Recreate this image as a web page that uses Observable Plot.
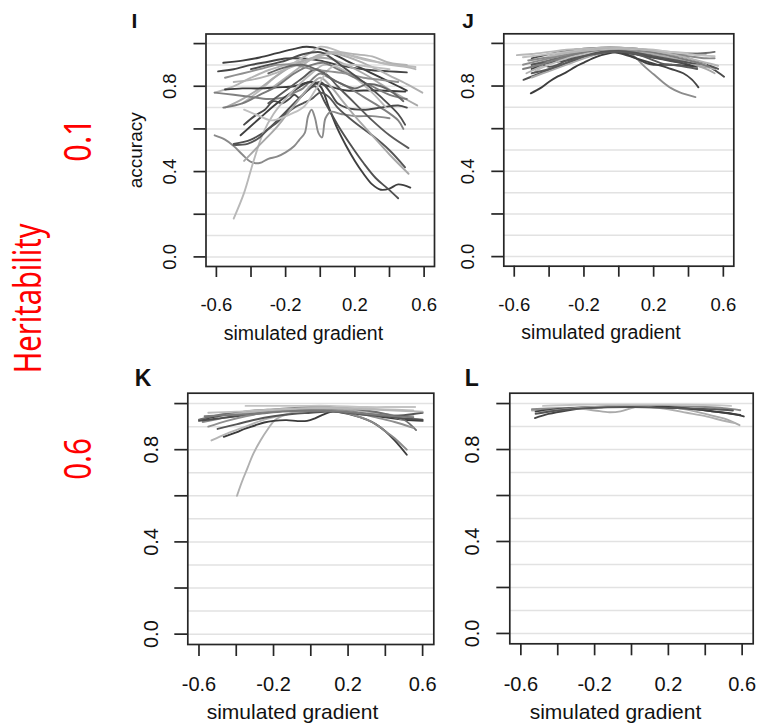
<!DOCTYPE html>
<html><head><meta charset="utf-8">
<script src="https://cdn.jsdelivr.net/npm/d3@7"></script>
<script src="https://cdn.jsdelivr.net/npm/@observablehq/plot@0.6"></script>
<style>
body{margin:0;background:#fff;}
#fig{position:relative;width:763px;height:728px;overflow:hidden;background:#fff;}
#fig svg{position:absolute;}
</style></head><body><div id="fig"></div>
<script>
// ---------- labels & ticks ----------
const xTicks = [-0.6,-0.4,-0.2,0,0.2,0.4,0.6];
const xTickLabels = [-0.6,-0.2,0.2,0.6];
const yTicks = [0,0.2,0.4,0.6,0.8,1];
const yTickLabels = [0,0.4,0.8];
const gridLevels = [0,0.1,0.2,0.3,0.4,0.5,0.6,0.7,0.8,0.9,1];
const panelNames = ["I","J","K","L"];
const xTitle = "simulated gradient";
const yTitle = "accuracy";
const rowTitle = "Heritability";
const rowLevels = ["0.1","0.6"];

// ---------- data: each series is a list of [gradient, accuracy] ----------
const seriesI = [
 [[-0.56,0.91],[-0.45,0.92],[-0.35,0.935],[-0.25,0.955],[-0.15,0.975],[-0.08,0.985],[0,0.975],[0.08,0.95],[0.15,0.92],[0.25,0.88],[0.35,0.84],[0.45,0.8],[0.5,0.78]],
 [[-0.59,0.87],[-0.5,0.88],[-0.4,0.9],[-0.3,0.915],[-0.2,0.93],[-0.1,0.93],[0,0.92],[0.1,0.9],[0.2,0.885],[0.3,0.875],[0.4,0.87],[0.5,0.865]],
 [[-0.61,0.77],[-0.5,0.8],[-0.4,0.84],[-0.3,0.875],[-0.2,0.9],[-0.1,0.92],[-0.02,0.94],[0.05,0.96],[0.12,0.955],[0.2,0.94],[0.3,0.92],[0.4,0.9],[0.5,0.89],[0.55,0.88]],
 [[-0.45,0.72],[-0.35,0.78],[-0.25,0.85],[-0.15,0.91],[-0.05,0.96],[0,0.985],[0.05,0.98],[0.15,0.95],[0.25,0.925],[0.35,0.91],[0.45,0.9],[0.55,0.89]],
 [[-0.3,0.78],[-0.2,0.84],[-0.1,0.9],[0,0.95],[0.1,0.95],[0.2,0.925],[0.3,0.89],[0.4,0.85],[0.5,0.81],[0.59,0.77]],
 [[-0.55,0.7],[-0.45,0.74],[-0.35,0.79],[-0.25,0.85],[-0.15,0.9],[-0.05,0.93],[0.05,0.93],[0.15,0.9],[0.25,0.86],[0.35,0.81],[0.45,0.76],[0.56,0.71]],
 [[-0.55,0.785],[-0.45,0.79],[-0.35,0.79],[-0.25,0.795],[-0.15,0.8],[-0.05,0.82],[0.05,0.8],[0.15,0.78],[0.25,0.78],[0.35,0.78],[0.49,0.775]],
 [[-0.61,0.77],[-0.5,0.76],[-0.4,0.75],[-0.3,0.74],[-0.2,0.75],[-0.15,0.77],[-0.1,0.79],[-0.05,0.83],[0,0.86],[0.05,0.84],[0.15,0.8],[0.25,0.75],[0.35,0.7],[0.45,0.64],[0.48,0.6]],
 [[-0.44,0.62],[-0.38,0.66],[-0.32,0.69],[-0.27,0.73],[-0.22,0.72],[-0.18,0.74],[-0.15,0.76],[-0.12,0.745],[-0.09,0.77],[-0.05,0.8],[0,0.82],[0.05,0.78],[0.1,0.72],[0.15,0.7],[0.25,0.69],[0.35,0.7],[0.45,0.71],[0.5,0.7]],
 [[-0.46,0.57],[-0.35,0.65],[-0.25,0.72],[-0.15,0.78],[-0.06,0.82],[0,0.8],[0.05,0.7],[0.1,0.6],[0.15,0.52],[0.2,0.45],[0.25,0.39],[0.3,0.34],[0.35,0.315],[0.4,0.32],[0.45,0.34],[0.52,0.325]],
 [[-0.5,0.53],[-0.4,0.55],[-0.3,0.6],[-0.2,0.68],[-0.1,0.76],[-0.03,0.8],[0.03,0.72],[0.1,0.62],[0.18,0.52],[0.25,0.44],[0.32,0.37],[0.39,0.32],[0.45,0.275]],
 [[-0.61,0.57],[-0.55,0.55],[-0.5,0.52],[-0.45,0.48],[-0.4,0.445],[-0.35,0.44],[-0.3,0.46],[-0.25,0.47],[-0.2,0.49],[-0.15,0.52],[-0.12,0.55],[-0.09,0.58],[-0.07,0.66],[-0.05,0.69],[-0.03,0.65],[-0.01,0.58],[0.01,0.56],[0.03,0.65],[0.06,0.68],[0.12,0.67],[0.2,0.66],[0.3,0.66],[0.4,0.65]],
 [[-0.5,0.18],[-0.44,0.3],[-0.385,0.45],[-0.33,0.58],[-0.27,0.67],[-0.19,0.75],[-0.12,0.81],[-0.05,0.86],[0.02,0.9],[0.1,0.89],[0.2,0.84],[0.3,0.77],[0.38,0.7]],
 [[-0.5,0.525],[-0.42,0.53],[-0.35,0.56],[-0.3,0.6],[-0.25,0.63],[-0.2,0.67],[-0.15,0.7],[-0.1,0.72],[-0.05,0.74],[0,0.77],[0.05,0.75],[0.1,0.7],[0.2,0.63],[0.3,0.57],[0.4,0.5],[0.49,0.42]],
 [[-0.44,0.45],[-0.38,0.5],[-0.32,0.55],[-0.26,0.6],[-0.2,0.66],[-0.13,0.73],[-0.06,0.8],[0,0.84],[0.06,0.8],[0.12,0.74],[0.2,0.66],[0.3,0.57],[0.4,0.48],[0.51,0.39]],
 [[-0.3,0.72],[-0.2,0.78],[-0.1,0.84],[-0.03,0.88],[0.03,0.86],[0.1,0.8],[0.2,0.72],[0.3,0.64],[0.4,0.57],[0.51,0.51]],
 [[-0.56,0.7],[-0.45,0.72],[-0.35,0.76],[-0.25,0.8],[-0.15,0.86],[-0.05,0.9],[0.02,0.91],[0.1,0.88],[0.2,0.84],[0.3,0.8],[0.4,0.76],[0.5,0.74]],
 [[-0.44,0.69],[-0.35,0.66],[-0.28,0.64],[-0.2,0.66],[-0.1,0.7],[-0.03,0.78],[0.05,0.88],[0.1,0.9],[0.2,0.9],[0.3,0.89],[0.4,0.88]],
 [[-0.55,0.84],[-0.45,0.86],[-0.35,0.88],[-0.25,0.9],[-0.15,0.9],[-0.05,0.88],[0.05,0.87],[0.15,0.86],[0.25,0.84],[0.35,0.83],[0.45,0.82]],
 [[-0.4,0.88],[-0.3,0.9],[-0.2,0.92],[-0.1,0.95],[0,0.96],[0.05,0.94],[0.15,0.88],[0.25,0.82],[0.35,0.75],[0.45,0.67],[0.49,0.62]],
 [[-0.5,0.82],[-0.4,0.83],[-0.3,0.85],[-0.2,0.88],[-0.1,0.91],[0,0.94],[0.1,0.96],[0.2,0.95],[0.3,0.94],[0.4,0.91],[0.5,0.9]],
 [[-0.3,0.86],[-0.2,0.89],[-0.1,0.9],[0,0.87],[0.1,0.82],[0.2,0.79],[0.27,0.81],[0.35,0.8],[0.42,0.77],[0.48,0.73]]
];
const seriesJ = [
 [[-0.505,0.766],[-0.45,0.79],[-0.4,0.82],[-0.35,0.845],[-0.3,0.865],[-0.25,0.89],[-0.2,0.91],[-0.15,0.93],[-0.1,0.945],[-0.05,0.955],[0,0.96],[0.05,0.955],[0.1,0.95],[0.2,0.935],[0.3,0.92],[0.4,0.9],[0.5,0.89]],
 [[-0.55,0.9],[-0.4,0.93],[-0.25,0.955],[-0.1,0.97],[0,0.975],[0.05,0.96],[0.1,0.93],[0.15,0.89],[0.2,0.855],[0.25,0.82],[0.3,0.79],[0.35,0.77],[0.44,0.748]],
 [[-0.5,0.88],[-0.4,0.91],[-0.3,0.93],[-0.2,0.95],[-0.1,0.96],[0,0.955],[0.1,0.93],[0.2,0.905],[0.3,0.88],[0.37,0.86],[0.42,0.83],[0.457,0.794]],
 [[-0.5,0.93],[-0.4,0.95],[-0.3,0.965],[-0.2,0.975],[-0.1,0.98],[0,0.98],[0.1,0.975],[0.2,0.96],[0.3,0.945],[0.4,0.93],[0.5,0.9],[0.55,0.875],[0.604,0.844]],
 [[-0.585,0.945],[-0.5,0.95],[-0.4,0.96],[-0.3,0.97],[-0.2,0.975],[-0.1,0.98],[0,0.98],[0.1,0.975],[0.2,0.97],[0.3,0.96],[0.4,0.955],[0.5,0.95]],
 [[-0.547,0.829],[-0.45,0.86],[-0.35,0.89],[-0.25,0.92],[-0.15,0.945],[-0.05,0.96],[0.05,0.955],[0.15,0.94],[0.25,0.925],[0.35,0.91],[0.45,0.9],[0.5,0.89]],
 [[-0.53,0.86],[-0.45,0.89],[-0.35,0.92],[-0.25,0.945],[-0.15,0.96],[-0.05,0.97],[0.05,0.97],[0.15,0.955],[0.25,0.94],[0.35,0.92],[0.45,0.9],[0.55,0.88]],
 [[-0.5,0.9],[-0.4,0.92],[-0.3,0.94],[-0.2,0.955],[-0.1,0.965],[0,0.97],[0.1,0.96],[0.2,0.95],[0.3,0.95],[0.4,0.95],[0.5,0.955],[0.55,0.96]],
 [[-0.45,0.905],[-0.35,0.915],[-0.3,0.92],[-0.2,0.94],[-0.1,0.955],[0,0.96],[0.1,0.93],[0.15,0.91],[0.2,0.9],[0.3,0.9],[0.4,0.895],[0.45,0.89]],
 [[-0.5,0.84],[-0.4,0.87],[-0.3,0.9],[-0.2,0.93],[-0.1,0.955],[0,0.965],[0.1,0.96],[0.2,0.95],[0.3,0.93],[0.4,0.91],[0.5,0.88],[0.55,0.86]],
 [[-0.52,0.92],[-0.4,0.935],[-0.3,0.945],[-0.2,0.955],[-0.1,0.96],[0,0.965],[0.1,0.965],[0.2,0.96],[0.3,0.95],[0.4,0.94],[0.5,0.93],[0.55,0.93]],
 [[-0.5,0.9],[-0.45,0.905],[-0.4,0.89],[-0.35,0.9],[-0.3,0.92],[-0.2,0.945],[-0.1,0.96],[0,0.965],[0.1,0.955],[0.2,0.94],[0.3,0.925],[0.4,0.91],[0.5,0.9],[0.57,0.88]],
 [[-0.48,0.87],[-0.4,0.9],[-0.3,0.93],[-0.2,0.95],[-0.1,0.97],[0,0.975],[0.1,0.97],[0.2,0.96],[0.3,0.94],[0.4,0.92],[0.5,0.9]],
 [[-0.55,0.88],[-0.45,0.9],[-0.35,0.925],[-0.25,0.95],[-0.15,0.965],[-0.05,0.975],[0.05,0.975],[0.15,0.965],[0.25,0.95],[0.35,0.93],[0.45,0.91],[0.52,0.89]],
 [[-0.55,0.935],[-0.45,0.945],[-0.35,0.955],[-0.25,0.965],[-0.15,0.97],[-0.05,0.975],[0.05,0.975],[0.15,0.97],[0.25,0.965],[0.35,0.955],[0.45,0.945],[0.55,0.94]],
 [[-0.5,0.86],[-0.4,0.88],[-0.3,0.91],[-0.2,0.94],[-0.1,0.955],[0,0.96],[0.1,0.95],[0.2,0.92],[0.25,0.905],[0.3,0.9],[0.35,0.895],[0.45,0.88]],
 [[-0.4,0.94],[-0.3,0.955],[-0.2,0.965],[-0.1,0.975],[0,0.98],[0.1,0.975],[0.2,0.965],[0.3,0.95],[0.4,0.93],[0.5,0.91],[0.57,0.895]]
];
const seriesK = [
 [[-0.396,0.6],[-0.37,0.66],[-0.34,0.72],[-0.31,0.78],[-0.27,0.84],[-0.23,0.89],[-0.19,0.93],[-0.12,0.955],[-0.05,0.965],[0.05,0.97],[0.15,0.975],[0.25,0.97],[0.35,0.96],[0.45,0.95],[0.55,0.945]],
 [[-0.59,0.93],[-0.5,0.945],[-0.4,0.955],[-0.3,0.965],[-0.2,0.97],[-0.1,0.975],[0,0.975],[0.1,0.97],[0.2,0.955],[0.3,0.93],[0.35,0.91],[0.4,0.88],[0.45,0.84],[0.515,0.778]],
 [[-0.58,0.92],[-0.45,0.94],[-0.3,0.96],[-0.15,0.97],[0,0.975],[0.15,0.965],[0.25,0.945],[0.3,0.93],[0.35,0.91],[0.4,0.88],[0.45,0.85],[0.515,0.8]],
 [[-0.467,0.856],[-0.4,0.875],[-0.36,0.889],[-0.3,0.905],[-0.25,0.918],[-0.2,0.925],[-0.13,0.928],[-0.07,0.924],[-0.02,0.925],[0.02,0.935],[0.06,0.95],[0.12,0.966],[0.2,0.968],[0.3,0.955],[0.4,0.94],[0.5,0.93],[0.6,0.925]],
 [[-0.533,0.84],[-0.45,0.87],[-0.35,0.9],[-0.25,0.93],[-0.15,0.95],[-0.05,0.965],[0.05,0.97],[0.15,0.97],[0.25,0.965],[0.35,0.955],[0.45,0.94],[0.5,0.93]],
 [[-0.6,0.93],[-0.5,0.95],[-0.4,0.96],[-0.3,0.97],[-0.2,0.975],[-0.1,0.98],[0,0.985],[0.1,0.985],[0.2,0.98],[0.3,0.97],[0.4,0.955],[0.5,0.93],[0.565,0.885]],
 [[-0.35,0.99],[-0.2,0.99],[-0.05,0.99],[0.1,0.99],[0.3,0.985],[0.45,0.985],[0.56,0.985]],
 [[-0.55,0.96],[-0.4,0.965],[-0.2,0.975],[0,0.98],[0.2,0.98],[0.4,0.975],[0.55,0.97]],
 [[-0.6,0.925],[-0.5,0.935],[-0.4,0.945],[-0.3,0.955],[-0.2,0.965],[-0.1,0.97],[0,0.97],[0.1,0.97],[0.2,0.965],[0.3,0.955],[0.4,0.945],[0.5,0.935],[0.6,0.93]],
 [[-0.55,0.9],[-0.45,0.925],[-0.35,0.945],[-0.25,0.96],[-0.15,0.97],[-0.05,0.975],[0.05,0.975],[0.15,0.97],[0.25,0.96],[0.35,0.94],[0.45,0.92],[0.55,0.895]],
 [[-0.5,0.89],[-0.4,0.91],[-0.3,0.93],[-0.2,0.945],[-0.1,0.955],[0,0.96],[0.1,0.965],[0.2,0.96],[0.3,0.95],[0.4,0.945],[0.5,0.95],[0.6,0.96]],
 [[-0.45,0.95],[-0.3,0.965],[-0.15,0.975],[0,0.98],[0.15,0.98],[0.3,0.975],[0.45,0.97],[0.6,0.965]],
 [[-0.57,0.945],[-0.45,0.95],[-0.3,0.955],[-0.15,0.965],[0,0.97],[0.15,0.965],[0.3,0.955],[0.45,0.945],[0.55,0.94]]
];
const seriesL = [
 [[-0.524,0.937],[-0.45,0.955],[-0.35,0.97],[-0.25,0.98],[-0.15,0.985],[-0.05,0.99],[0.05,0.99],[0.15,0.985],[0.25,0.98],[0.35,0.975],[0.45,0.965],[0.52,0.958],[0.59,0.95]],
 [[-0.54,0.97],[-0.45,0.975],[-0.35,0.98],[-0.28,0.978],[-0.2,0.97],[-0.12,0.962],[-0.06,0.966],[0,0.98],[0.05,0.99],[0.15,0.99],[0.25,0.98],[0.35,0.965],[0.45,0.945],[0.52,0.93],[0.586,0.906]],
 [[-0.54,0.975],[-0.4,0.98],[-0.2,0.985],[0,0.99],[0.2,0.99],[0.4,0.985],[0.5,0.98],[0.59,0.971]],
 [[-0.52,0.965],[-0.4,0.975],[-0.2,0.985],[0,0.99],[0.2,0.985],[0.35,0.975],[0.45,0.965],[0.55,0.955],[0.609,0.944]],
 [[-0.48,0.99],[-0.3,0.995],[-0.1,0.995],[0.1,0.995],[0.3,0.995],[0.45,0.993],[0.54,0.99]],
 [[-0.5,0.96],[-0.4,0.972],[-0.3,0.98],[-0.2,0.985],[0,0.99],[0.2,0.975],[0.3,0.96],[0.4,0.945],[0.5,0.925],[0.56,0.915]],
 [[-0.52,0.955],[-0.4,0.97],[-0.25,0.98],[0,0.985],[0.25,0.98],[0.45,0.975],[0.55,0.97]]
];

// ---------- styles (grey level of each series) ----------
const shadesI = ["#3d3d3d","#454545","#b5b5b5","#bbbbbb","#b0b0b0","#aaaaaa","#3a3a3a","#808080","#4a4a4a","#3f3f3f","#505050","#8a8a8a","#b8b8b8","#555555","#a8a8a8","#5a5a5a","#7a7a7a","#c0c0c0","#909090","#4d4d4d","#b3b3b3","#666666"];
const shadesJ = ["#3d3d3d","#8c8c8c","#444444","#4a4a4a","#b8b8b8","#505050","#b0b0b0","#6e6e6e","#404040","#aaaaaa","#8a8a8a","#555555","#bdbdbd","#7d7d7d","#c2c2c2","#5a5a5a","#b5b5b5"];
const shadesK = ["#b0b0b0","#3d3d3d","#8a8a8a","#3a3a3a","#b5b5b5","#707070","#c4c4c4","#bdbdbd","#4d4d4d","#8f8f8f","#555555","#b8b8b8","#7a7a7a"];
const shadesL = ["#444444","#aaaaaa","#8a8a8a","#3d3d3d","#c4c4c4","#b0b0b0","#555555"];

const xDomain = [-0.66, 0.66];
const yDomain = [-0.045, 1.045];
const FONT = "'Liberation Sans', Arial, Helvetica, sans-serif";

const layout = [
 {name: panelNames[0], series: seriesI, shades: shadesI, left:110, top:0, w:330, h:350, ml:95.5, mr:6, mt:33.5, mb:84, fs:18.5, xt:11, yt:12, pad:20.7, ylabDx:-36.3, titleDx:-16.8, titleDy:73.5, letterDx:-74.5, letterDy:-6.5, letterFs:21, yTitle:true},
 {name: panelNames[1], series: seriesJ, shades: shadesJ, left:440, top:0, w:323, h:350, ml:63.3, mr:29.7, mt:33.3, mb:84.3, fs:18.5, xt:11, yt:12, pad:20.7, ylabDx:-35.8, titleDx:-17.8, titleDy:72.6, letterDx:-41.5, letterDy:-6.3, letterFs:21, yTitle:false},
 {name: panelNames[2], series: seriesK, shades: shadesK, left:100, top:360, w:340, h:368, ml:87.3, mr:6.7, mt:32.7, mb:84, fs:20, xt:12, yt:13, pad:20.7, ylabDx:-36.5, titleDx:-18.3, titleDy:74.3, letterDx:-53, letterDy:-7.5, letterFs:23, yTitle:false},
 {name: panelNames[3], series: seriesL, shades: shadesL, left:440, top:360, w:323, h:368, ml:69.3, mr:10.3, mt:32.7, mb:84.7, fs:20, xt:12, yt:13, pad:20.7, ylabDx:-36.8, titleDx:-16, titleDy:75, letterDx:-45, letterDy:-7.5, letterFs:23, yTitle:false}
];

const fig = document.getElementById("fig");
const fmt = d => d.toFixed(1);

// ---------- red row annotations (behind the panels, full-size layer) ----------
const ns = "http://www.w3.org/2000/svg";
const ann = document.createElementNS(ns, "svg");
ann.setAttribute("width", 763); ann.setAttribute("height", 728);
ann.style.left = "0px"; ann.style.top = "0px";
fig.appendChild(ann);
const redLabels = [
  {t: rowTitle, x: 40.7, y: 298.3, len: 150},
  {t: rowLevels[0], x: 90.7, y: 140, len: 43.3},
  {t: rowLevels[1], x: 90.7, y: 459, len: 41.7}
];
for (const r of redLabels) {
  const t = document.createElementNS(ns, "text");
  t.setAttribute("text-anchor", "middle");
  t.setAttribute("font-family", "'Noto Sans', 'Open Sans', sans-serif");
  t.setAttribute("font-size", 38);
  t.setAttribute("fill", "#ff0000");
  t.textContent = r.t;
  ann.appendChild(t);
  const natural = t.getComputedTextLength() || r.len;
  const sx = r.len / natural;
  t.setAttribute("transform", `translate(${r.x},${r.y}) rotate(-90) scale(${sx.toFixed(4)},1)`);
}

for (const p of layout) {
  const rows = p.series.flatMap((pts, k) => pts.map(([x, y]) => ({k, x, y})));
  const marks = [
    Plot.ruleY(gridLevels, {stroke: "#e2e2e2", strokeWidth: 1.5}),
    Plot.line(rows, {x: "x", y: "y", z: "k", stroke: "k", strokeWidth: 1.9, curve: "catmull-rom"}),
    Plot.frame({stroke: "#262626", strokeWidth: 1.7}),
    Plot.axisX({ticks: xTicks, tickSize: p.xt, tickPadding: p.pad, fontSize: p.fs, label: null,
      tickFormat: d => xTickLabels.some(v => Math.abs(v - d) < 1e-9) ? fmt(d) : "",
      stroke: "#262626", fill: "#111", strokeWidth: 1.7}),
    Plot.axisY({ticks: yTicks, tickSize: p.yt, label: null, tickFormat: () => "",
      stroke: "#262626", strokeWidth: 1.7}),
    Plot.text(yTickLabels, {y: d => d, text: fmt, frameAnchor: "left", dx: p.ylabDx, rotate: -90,
      textAnchor: "middle", lineAnchor: "middle", fontSize: p.fs, fill: "#111"}),
    Plot.text([xTitle], {frameAnchor: "bottom", text: d => d, dx: p.titleDx, dy: p.titleDy,
      lineAnchor: "bottom", fontSize: p.fs + 1, fill: "#111"}),
    Plot.text([p.name], {frameAnchor: "top-left", text: d => d, dx: p.letterDx, dy: p.letterDy,
      textAnchor: "start", lineAnchor: "bottom", fontSize: p.letterFs, fontWeight: "bold", fill: "#111"})
  ];
  if (p.yTitle) {
    marks.push(Plot.text([yTitle], {frameAnchor: "left", text: d => d, dx: -70.5, rotate: -90,
      textAnchor: "middle", lineAnchor: "middle", fontSize: 19, fill: "#111"}));
  }
  const svg = Plot.plot({
    width: p.w, height: p.h,
    marginLeft: p.ml, marginRight: p.mr, marginTop: p.mt, marginBottom: p.mb,
    x: {domain: xDomain},
    y: {domain: yDomain},
    color: {type: "ordinal", domain: d3.range(p.series.length), range: p.shades},
    style: {fontFamily: FONT, background: "transparent", overflow: "visible"},
    marks
  });
  svg.style.left = p.left + "px";
  svg.style.top = p.top + "px";
  fig.appendChild(svg);
}
</script></body></html>
